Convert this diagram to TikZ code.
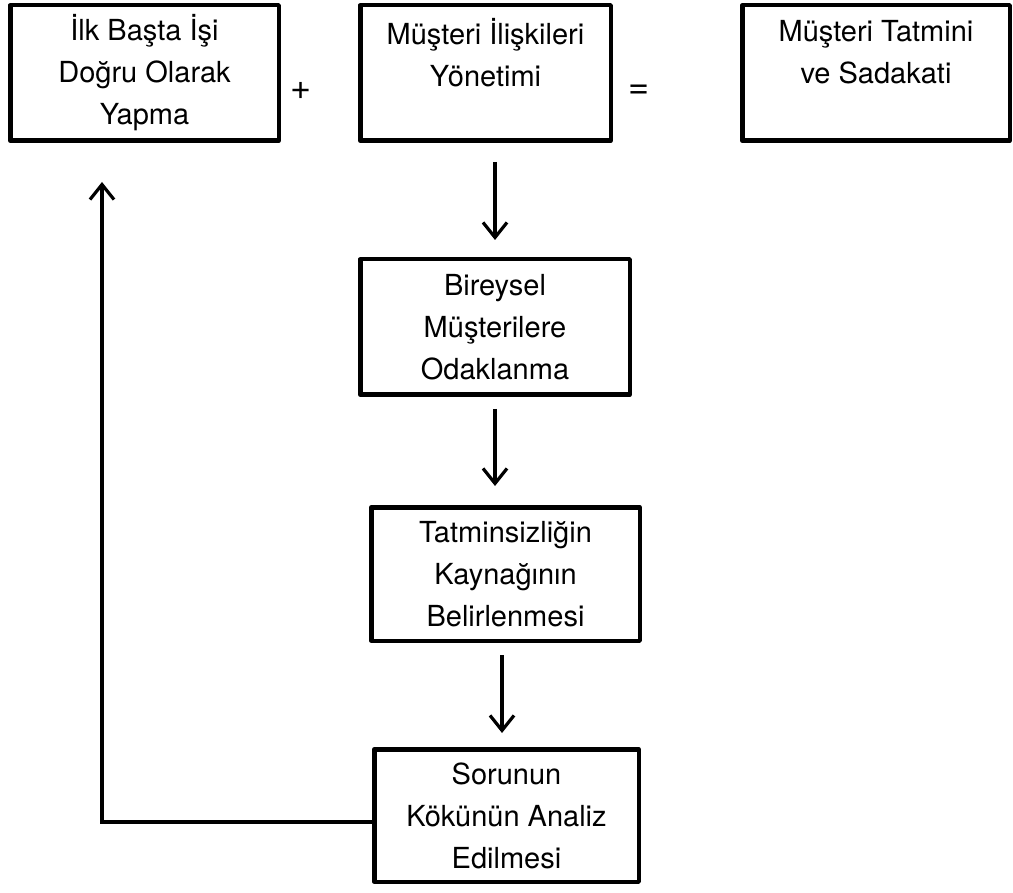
\documentclass[tikz,border=0pt]{standalone}
\usepackage{fontspec}
\setmainfont{TeX Gyre Heros}
\usetikzlibrary{arrows.meta}
\begin{document}
\begin{tikzpicture}[x=1pt,y=-1pt,
  stepbox/.style={draw=black, line width=4.5pt, line join=round, fill=white,
    align=center, inner sep=0pt, font=\fontsize{29}{42}\selectfont},
  sign/.style={inner sep=0pt, font=\fontsize{36}{42}\selectfont},
  flow/.style={draw=black, line width=3.2pt,
    -{Straight Barb[length=15pt,width=24pt,line width=3.2pt]}}]
  \useasboundingbox (0,0) rectangle (1013,893);

  % top row: the equation
  \node[stepbox, minimum width=268.5pt, minimum height=135.5pt] (b1) at (144.5,73)
    {İlk Başta İşi\\Doğru Olarak\\Yapma};
  \node[sign] (plus) at (301,91) {+};
  \node[stepbox, minimum width=250.5pt, minimum height=135.5pt] (b2) at (485.5,73)
    {Müşteri İlişkileri\\Yönetimi\\\mbox{}};
  \node[sign] (eq) at (639,92) {=};
  \node[stepbox, minimum width=267.5pt, minimum height=135.5pt] (b3) at (876,73)
    {Müşteri Tatmini\\ve Sadakati\\\mbox{}};

  % the chain below
  \node[stepbox, minimum width=269.5pt, minimum height=135.5pt] (b4) at (495,327)
    {Bireysel\\Müşterilere\\Odaklanma};
  \node[stepbox, minimum width=268.5pt, minimum height=133.5pt] (b5) at (505.5,574)
    {Tatminsizliğin\\Kaynağının\\Belirlenmesi};
  \node[stepbox, minimum width=264.5pt, minimum height=132.5pt] (b6) at (506.5,815.5)
    {Sorunun\\Kökünün Analiz\\Edilmesi};

  % arrows
  \draw[flow, shorten <=19pt, shorten >=17pt] (b2.south -| b4.north) -- (b4.north);
  \draw[flow, shorten <=12pt, shorten >=19pt] (b4.south) -- (b5.north -| b4.south);
  \draw[flow, shorten <=12pt, shorten >=14pt] (b5.south -| 502,0) -- (b6.north -| 502,0);

  % feedback loop back to the first box
  \coordinate (fb) at (102,822);
  \draw[flow, shorten >=39pt] (b6.west |- fb) -- (fb) -- (fb |- b1.south);
\end{tikzpicture}
\end{document}
